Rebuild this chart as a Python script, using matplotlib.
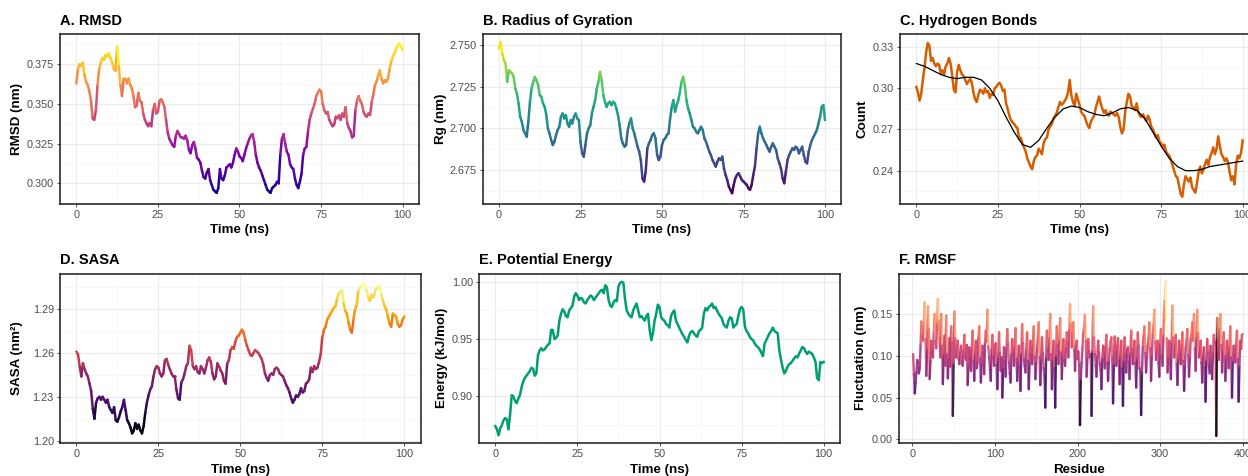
import matplotlib.pyplot as plt
import numpy as np
from matplotlib.collections import LineCollection
from matplotlib.ticker import FormatStrFormatter

plt.rcParams["font.family"] = ["Liberation Sans", "DejaVu Sans"]

W, H = 1248, 476

# ---------------- data (0.5 ns sampling, 0-100 ns) ----------------
rmsd = [
    0.363, 0.372, 0.375, 0.374, 0.376, 0.368, 0.364, 0.362, 0.358, 0.352,
    0.341, 0.340, 0.346, 0.362, 0.372, 0.376, 0.379, 0.378, 0.381, 0.380,
    0.382, 0.379, 0.376, 0.372, 0.371, 0.386, 0.374, 0.362, 0.355, 0.366,
    0.366, 0.363, 0.366, 0.362, 0.360, 0.355, 0.348, 0.349, 0.357, 0.352,
    0.351, 0.344, 0.340, 0.338, 0.336, 0.338, 0.336, 0.346, 0.350, 0.344,
    0.345, 0.352, 0.353, 0.351, 0.348, 0.340, 0.332, 0.328, 0.326, 0.324,
    0.323, 0.330, 0.333, 0.331, 0.329, 0.329, 0.328, 0.330, 0.327, 0.321,
    0.319, 0.324, 0.326, 0.322, 0.316, 0.315, 0.313, 0.308, 0.304, 0.303,
    0.307, 0.309, 0.302, 0.299, 0.296, 0.295, 0.294, 0.297, 0.309, 0.303,
    0.302, 0.305, 0.310, 0.311, 0.312, 0.310, 0.313, 0.318, 0.322, 0.320,
    0.317, 0.316, 0.314, 0.318, 0.322, 0.325, 0.328, 0.330, 0.331, 0.326,
    0.318, 0.313, 0.310, 0.308, 0.305, 0.302, 0.299, 0.296, 0.295, 0.294,
    0.297, 0.298, 0.299, 0.301, 0.300, 0.318, 0.328, 0.331, 0.325, 0.320,
    0.318, 0.312, 0.310, 0.309, 0.303, 0.299, 0.297, 0.301, 0.306, 0.318,
    0.322, 0.323, 0.333, 0.340, 0.344, 0.347, 0.350, 0.355, 0.357, 0.359,
    0.358, 0.350, 0.346, 0.344, 0.345, 0.340, 0.338, 0.336, 0.337, 0.342,
    0.341, 0.343, 0.340, 0.344, 0.342, 0.348, 0.338, 0.335, 0.333, 0.329,
    0.330, 0.346, 0.352, 0.355, 0.352, 0.350, 0.345, 0.343, 0.342, 0.344,
    0.343, 0.351, 0.356, 0.362, 0.364, 0.368, 0.371, 0.366, 0.363, 0.365,
    0.364, 0.366, 0.372, 0.377, 0.380, 0.382, 0.385, 0.387, 0.388, 0.386,
    0.384,
]

rg = [
    2.748, 2.752, 2.745, 2.741, 2.739, 2.728, 2.735, 2.734, 2.733, 2.731,
    2.724, 2.721, 2.715, 2.707, 2.704, 2.699, 2.697, 2.695, 2.704, 2.716,
    2.724, 2.728, 2.731, 2.729, 2.726, 2.720, 2.719, 2.715, 2.713, 2.708,
    2.700, 2.697, 2.693, 2.690, 2.692, 2.696, 2.699, 2.701, 2.707, 2.709,
    2.706, 2.708, 2.703, 2.701, 2.705, 2.703, 2.707, 2.709, 2.706, 2.705,
    2.692, 2.685, 2.683, 2.690, 2.697, 2.700, 2.702, 2.709, 2.713, 2.717,
    2.724, 2.728, 2.734, 2.729, 2.720, 2.716, 2.713, 2.715, 2.716, 2.714,
    2.716, 2.715, 2.712, 2.708, 2.702, 2.694, 2.691, 2.689, 2.690, 2.699,
    2.703, 2.706, 2.700, 2.697, 2.693, 2.689, 2.686, 2.681, 2.670, 2.668,
    2.674, 2.688, 2.691, 2.693, 2.696, 2.697, 2.694, 2.684, 2.681, 2.683,
    2.690, 2.693, 2.694, 2.696, 2.697, 2.706, 2.713, 2.717, 2.710, 2.714,
    2.717, 2.722, 2.728, 2.731, 2.726, 2.717, 2.712, 2.709, 2.705, 2.701,
    2.700, 2.698, 2.697, 2.699, 2.701, 2.699, 2.694, 2.692, 2.689, 2.686,
    2.684, 2.681, 2.679, 2.677, 2.680, 2.682, 2.681, 2.683, 2.676, 2.672,
    2.669, 2.665, 2.663, 2.661, 2.666, 2.670, 2.672, 2.673, 2.671, 2.669,
    2.668, 2.667, 2.666, 2.664, 2.663, 2.666, 2.672, 2.677, 2.688, 2.697,
    2.701, 2.697, 2.694, 2.692, 2.690, 2.688, 2.686, 2.689, 2.691, 2.689,
    2.687, 2.682, 2.679, 2.676, 2.670, 2.667, 2.674, 2.681, 2.684, 2.686,
    2.688, 2.687, 2.689, 2.688, 2.685, 2.687, 2.689, 2.684, 2.680, 2.679,
    2.686, 2.690, 2.693, 2.695, 2.697, 2.699, 2.703, 2.707, 2.713, 2.714,
    2.705,
]

hbonds = [
    0.301, 0.297, 0.291, 0.296, 0.306, 0.315, 0.326, 0.333, 0.331, 0.320,
    0.322, 0.318, 0.316, 0.318, 0.317, 0.311, 0.313, 0.310, 0.316, 0.318,
    0.322, 0.318, 0.309, 0.299, 0.297, 0.312, 0.317, 0.313, 0.310, 0.309,
    0.306, 0.303, 0.305, 0.307, 0.304, 0.297, 0.292, 0.290, 0.295, 0.299,
    0.298, 0.296, 0.300, 0.297, 0.298, 0.293, 0.296, 0.295, 0.300, 0.301,
    0.303, 0.304, 0.302, 0.298, 0.299, 0.289, 0.285, 0.280, 0.277, 0.275,
    0.274, 0.272, 0.271, 0.263, 0.264, 0.260, 0.257, 0.254, 0.249, 0.246,
    0.243, 0.241, 0.247, 0.250, 0.251, 0.256, 0.254, 0.252, 0.260, 0.263,
    0.264, 0.270, 0.272, 0.274, 0.278, 0.280, 0.282, 0.286, 0.290, 0.288,
    0.289, 0.291, 0.293, 0.297, 0.306, 0.295, 0.290, 0.287, 0.296, 0.292,
    0.288, 0.283, 0.281, 0.280, 0.276, 0.273, 0.271, 0.276, 0.278, 0.280,
    0.286, 0.290, 0.294, 0.289, 0.285, 0.282, 0.284, 0.281, 0.280, 0.283,
    0.282, 0.281, 0.280, 0.282, 0.279, 0.272, 0.267, 0.270, 0.283, 0.290,
    0.296, 0.294, 0.287, 0.286, 0.284, 0.289, 0.283, 0.280, 0.279, 0.281,
    0.278, 0.276, 0.280, 0.277, 0.272, 0.270, 0.267, 0.264, 0.266, 0.261,
    0.260, 0.257, 0.259, 0.254, 0.252, 0.251, 0.248, 0.244, 0.240, 0.236,
    0.235, 0.229, 0.223, 0.221, 0.230, 0.236, 0.234, 0.232, 0.235, 0.228,
    0.226, 0.224, 0.231, 0.239, 0.243, 0.238, 0.241, 0.245, 0.248, 0.244,
    0.250, 0.253, 0.257, 0.252, 0.256, 0.265, 0.258, 0.252, 0.250, 0.247,
    0.249, 0.246, 0.239, 0.233, 0.236, 0.230, 0.245, 0.251, 0.249, 0.253,
    0.262,
]

# loess trend for H-bonds, read every 2.5 ns
hbonds_smooth = [
    0.318, 0.316, 0.313, 0.310, 0.308, 0.307, 0.308, 0.308, 0.306, 0.300,
    0.291, 0.279, 0.268, 0.259, 0.257, 0.262, 0.271, 0.279, 0.285, 0.287,
    0.286, 0.283, 0.281, 0.280, 0.282, 0.285, 0.286, 0.284, 0.278, 0.268,
    0.258, 0.249, 0.243, 0.240, 0.240, 0.241, 0.243, 0.244, 0.245, 0.246,
    0.247,
]

sasa = [
    1.261, 1.259, 1.251, 1.244, 1.253, 1.249, 1.246, 1.244, 1.239, 1.234,
    1.222, 1.215, 1.226, 1.229, 1.230, 1.228, 1.230, 1.228, 1.226, 1.228,
    1.223, 1.221, 1.219, 1.223, 1.214, 1.213, 1.216, 1.220, 1.223, 1.228,
    1.221, 1.214, 1.212, 1.209, 1.205, 1.207, 1.212, 1.208, 1.211, 1.207,
    1.205, 1.210, 1.219, 1.226, 1.231, 1.235, 1.237, 1.244, 1.249, 1.251,
    1.250, 1.246, 1.244, 1.246, 1.255, 1.256, 1.252, 1.249, 1.246, 1.244,
    1.244, 1.235, 1.229, 1.228, 1.240, 1.242, 1.246, 1.251, 1.253, 1.265,
    1.262, 1.251, 1.249, 1.251, 1.247, 1.246, 1.251, 1.249, 1.246, 1.250,
    1.255, 1.257, 1.254, 1.246, 1.242, 1.244, 1.253, 1.251, 1.248, 1.246,
    1.241, 1.239, 1.253, 1.255, 1.262, 1.264, 1.263, 1.268, 1.271, 1.272,
    1.274, 1.276, 1.274, 1.269, 1.265, 1.262, 1.259, 1.258, 1.260, 1.262,
    1.261, 1.260, 1.258, 1.256, 1.252, 1.246, 1.243, 1.241, 1.245, 1.246,
    1.245, 1.249, 1.250, 1.249, 1.246, 1.245, 1.244, 1.241, 1.238, 1.236,
    1.233, 1.229, 1.226, 1.228, 1.231, 1.230, 1.232, 1.236, 1.233, 1.234,
    1.239, 1.240, 1.242, 1.250, 1.247, 1.251, 1.249, 1.250, 1.254, 1.259,
    1.271, 1.276, 1.278, 1.283, 1.285, 1.287, 1.289, 1.291, 1.292, 1.297,
    1.301, 1.302, 1.303, 1.294, 1.289, 1.287, 1.281, 1.276, 1.274, 1.283,
    1.290, 1.293, 1.303, 1.305, 1.306, 1.308, 1.307, 1.303, 1.298, 1.296,
    1.300, 1.298, 1.301, 1.305, 1.304, 1.306, 1.300, 1.296, 1.292, 1.290,
    1.285, 1.280, 1.278, 1.287, 1.286, 1.285, 1.280, 1.278, 1.279, 1.283,
    1.285,
]

energy = [
    0.874, 0.871, 0.866, 0.872, 0.875, 0.879, 0.881, 0.880, 0.871, 0.884,
    0.901, 0.900, 0.896, 0.894, 0.898, 0.901, 0.908, 0.913, 0.916, 0.918,
    0.920, 0.922, 0.925, 0.924, 0.918, 0.920, 0.936, 0.940, 0.942, 0.940,
    0.941, 0.943, 0.945, 0.946, 0.958, 0.958, 0.950, 0.951, 0.953, 0.966,
    0.972, 0.976, 0.974, 0.970, 0.969, 0.975, 0.977, 0.979, 0.987, 0.990,
    0.988, 0.984, 0.986, 0.985, 0.982, 0.981, 0.984, 0.986, 0.988, 0.987,
    0.984, 0.986, 0.988, 0.990, 0.992, 0.993, 0.990, 0.997, 0.995, 0.984,
    0.979, 0.978, 0.982, 0.984, 0.983, 0.996, 0.999, 1.000, 0.999, 0.985,
    0.975, 0.972, 0.970, 0.969, 0.975, 0.978, 0.981, 0.975, 0.969, 0.970,
    0.968, 0.966, 0.970, 0.972, 0.958, 0.949, 0.955, 0.966, 0.972, 0.980,
    0.978, 0.969, 0.967, 0.966, 0.963, 0.962, 0.960, 0.970, 0.973, 0.975,
    0.966, 0.963, 0.960, 0.957, 0.954, 0.952, 0.949, 0.947, 0.953, 0.956,
    0.957, 0.955, 0.953, 0.952, 0.957, 0.958, 0.960, 0.972, 0.977, 0.975,
    0.978, 0.979, 0.981, 0.977, 0.978, 0.975, 0.972, 0.970, 0.968, 0.963,
    0.961, 0.960, 0.966, 0.969, 0.968, 0.960, 0.962, 0.963, 0.970, 0.976,
    0.978, 0.976, 0.961, 0.957, 0.955, 0.952, 0.950, 0.949, 0.946, 0.944,
    0.943, 0.941, 0.938, 0.935, 0.946, 0.949, 0.952, 0.955, 0.957, 0.960,
    0.957, 0.956, 0.955, 0.940, 0.932, 0.925, 0.920, 0.922, 0.926, 0.928,
    0.929, 0.931, 0.933, 0.935, 0.934, 0.937, 0.940, 0.943, 0.942, 0.939,
    0.937, 0.939, 0.938, 0.937, 0.934, 0.930, 0.916, 0.914, 0.930, 0.929,
    0.930,
]

# RMSF per residue, residues 1..400 (20 per row)
rmsf_residue = list(range(1, 401))
rmsf = [
    0.102, 0.078, 0.055, 0.068, 0.080, 0.095, 0.092, 0.079, 0.085, 0.112, 0.141, 0.126, 0.118, 0.138, 0.164, 0.120, 0.076, 0.108, 0.159, 0.132,
    0.072, 0.094, 0.118, 0.105, 0.098, 0.127, 0.150, 0.118, 0.109, 0.139, 0.168, 0.142, 0.121, 0.098, 0.150, 0.112, 0.066, 0.101, 0.124, 0.088,
    0.148, 0.102, 0.073, 0.095, 0.121, 0.087, 0.135, 0.116, 0.028, 0.090, 0.153, 0.121, 0.098, 0.109, 0.118, 0.097, 0.090, 0.104, 0.112, 0.093,
    0.088, 0.106, 0.125, 0.099, 0.095, 0.113, 0.065, 0.087, 0.110, 0.096, 0.082, 0.108, 0.130, 0.094, 0.070, 0.101, 0.118, 0.085, 0.092, 0.121,
    0.135, 0.097, 0.068, 0.090, 0.112, 0.104, 0.078, 0.115, 0.130, 0.117, 0.155, 0.111, 0.098, 0.083, 0.070, 0.107, 0.125, 0.099, 0.088, 0.112,
    0.115, 0.089, 0.060, 0.097, 0.128, 0.103, 0.082, 0.098, 0.050, 0.084, 0.110, 0.093, 0.075, 0.109, 0.132, 0.114, 0.092, 0.079, 0.068, 0.101,
    0.120, 0.104, 0.088, 0.110, 0.133, 0.096, 0.070, 0.093, 0.112, 0.087, 0.058, 0.102, 0.138, 0.115, 0.095, 0.088, 0.080, 0.107, 0.128, 0.094,
    0.060, 0.092, 0.118, 0.101, 0.090, 0.112, 0.135, 0.099, 0.072, 0.091, 0.108, 0.121, 0.140, 0.098, 0.065, 0.095, 0.122, 0.103, 0.085, 0.076,
    0.038, 0.097, 0.130, 0.108, 0.095, 0.121, 0.150, 0.102, 0.060, 0.094, 0.118, 0.085, 0.038, 0.099, 0.135, 0.113, 0.090, 0.118, 0.145, 0.104,
    0.072, 0.101, 0.120, 0.095, 0.088, 0.109, 0.128, 0.116, 0.098, 0.131, 0.162, 0.138, 0.110, 0.126, 0.140, 0.107, 0.082, 0.112, 0.118, 0.096,
    0.105, 0.089, 0.017, 0.071, 0.092, 0.110, 0.128, 0.134, 0.149, 0.118, 0.075, 0.097, 0.120, 0.106, 0.098, 0.102, 0.028, 0.105, 0.159, 0.122,
    0.102, 0.088, 0.075, 0.099, 0.118, 0.104, 0.090, 0.083, 0.060, 0.096, 0.112, 0.097, 0.085, 0.110, 0.125, 0.091, 0.070, 0.093, 0.108, 0.117,
    0.122, 0.097, 0.043, 0.089, 0.123, 0.112, 0.088, 0.106, 0.121, 0.094, 0.066, 0.099, 0.118, 0.085, 0.040, 0.093, 0.122, 0.101, 0.080, 0.107,
    0.110, 0.093, 0.072, 0.102, 0.130, 0.108, 0.090, 0.104, 0.118, 0.091, 0.062, 0.096, 0.128, 0.112, 0.085, 0.081, 0.029, 0.079, 0.110, 0.123,
    0.135, 0.103, 0.080, 0.098, 0.112, 0.121, 0.140, 0.109, 0.070, 0.099, 0.125, 0.136, 0.155, 0.117, 0.095, 0.106, 0.118, 0.092, 0.075, 0.114,
    0.132, 0.101, 0.088, 0.124, 0.165, 0.143, 0.189, 0.121, 0.080, 0.097, 0.118, 0.095, 0.072, 0.116, 0.160, 0.122, 0.098, 0.108, 0.125, 0.090,
    0.065, 0.096, 0.118, 0.102, 0.090, 0.111, 0.128, 0.094, 0.058, 0.087, 0.110, 0.119, 0.132, 0.101, 0.075, 0.097, 0.120, 0.126, 0.140, 0.118,
    0.150, 0.109, 0.082, 0.121, 0.155, 0.127, 0.098, 0.103, 0.118, 0.092, 0.068, 0.099, 0.110, 0.086, 0.045, 0.094, 0.120, 0.104, 0.088, 0.079,
    0.112, 0.091, 0.072, 0.103, 0.125, 0.117, 0.115, 0.004, 0.145, 0.121, 0.095, 0.132, 0.150, 0.113, 0.080, 0.106, 0.128, 0.099, 0.070, 0.096,
    0.118, 0.102, 0.085, 0.110, 0.135, 0.098, 0.050, 0.093, 0.112, 0.101, 0.092, 0.114, 0.130, 0.096, 0.045, 0.087, 0.118, 0.108, 0.125, 0.126,
]

time_ticks = [0, 25, 50, 75, 100]
time_minor = [12.5, 37.5, 62.5, 87.5]

TICK_COLOR = "#4D4D4D"
GRID_MAJOR = "#EBEBEB"
GRID_MINOR = "#F4F4F4"


def panel(fig, box, xlim, ylim, xticks, xminor, yticks, yminor, fmt):
    left, top, right, bottom = box
    ax = fig.add_axes([left / W, 1 - bottom / H, (right - left) / W, (bottom - top) / H])
    ax.set_xlim(*xlim)
    ax.set_ylim(*ylim)
    ax.set_xticks(xticks)
    ax.set_xticks(xminor, minor=True)
    ax.set_yticks(yticks)
    ax.set_yticks(yminor, minor=True)
    ax.yaxis.set_major_formatter(FormatStrFormatter(fmt))
    ax.grid(which="major", color=GRID_MAJOR, lw=0.8, zorder=0)
    ax.grid(which="minor", color=GRID_MINOR, lw=0.5, zorder=0)
    ax.set_axisbelow(True)
    ax.tick_params(which="major", length=2.2, width=0.6, color="#333333",
                   labelsize=7.8, labelcolor=TICK_COLOR, pad=2.2)
    ax.tick_params(which="minor", length=0)
    for s in ax.spines.values():
        s.set_linewidth(1.1)
        s.set_color("#1a1a1a")
    return ax


def gradient_line(ax, x, y, cmap, lw=1.8, alpha=1.0):
    x = np.asarray(x, float)
    y = np.asarray(y, float)
    pts = np.column_stack([x, y]).reshape(-1, 1, 2)
    segs = np.concatenate([pts[:-1], pts[1:]], axis=1)
    lc = LineCollection(segs, cmap=cmap, norm=plt.Normalize(y.min(), y.max()),
                        linewidths=lw, capstyle="round", joinstyle="round", alpha=alpha)
    lc.set_array(y[:-1])
    ax.add_collection(lc)
    return lc


def labels(fig, box, title, xlabel, ylabel, ylabel_x, title_y, xlabel_y):
    left, top, right, bottom = box
    fig.text(left / W, 1 - title_y / H, title, fontsize=10.5, fontweight="bold",
             ha="left", va="baseline")
    fig.text((left + right) / 2 / W, 1 - xlabel_y / H, xlabel, fontsize=9.6,
             fontweight="bold", ha="center", va="center")
    fig.text(ylabel_x / W, 1 - (top + bottom) / 2 / H, ylabel, fontsize=9.6,
             fontweight="bold", ha="center", va="center", rotation=90)


fig = plt.figure(figsize=(W / 100, H / 100), dpi=100)

# A. RMSD
box = (60, 34, 419, 203.5)
ax = panel(fig, box, (-5, 105), (0.2873, 0.3941), time_ticks, time_minor,
           [0.300, 0.325, 0.350, 0.375], [0.2875, 0.3125, 0.3375, 0.3625, 0.3875], "%.3f")
gradient_line(ax, np.linspace(0, 100, len(rmsd)), rmsd, "plasma")
labels(fig, box, "A. RMSD", "Time (ns)", "RMSD (nm)", 16.7, 25, 230)

# B. Radius of gyration
box = (482.7, 34, 841.3, 203.5)
ax = panel(fig, box, (-5, 105), (2.6548, 2.7568), time_ticks, time_minor,
           [2.675, 2.700, 2.725, 2.750], [2.6625, 2.6875, 2.7125, 2.7375], "%.3f")
gradient_line(ax, np.linspace(0, 100, len(rg)), rg, "viridis")
labels(fig, box, "B. Radius of Gyration", "Time (ns)", "Rg (nm)", 440.7, 25, 230)

# C. Hydrogen bonds
box = (900, 34, 1259, 203.5)
ax = panel(fig, box, (-5, 105), (0.2161, 0.3395), time_ticks, time_minor,
           [0.24, 0.27, 0.30, 0.33], [0.225, 0.255, 0.285, 0.315], "%.2f")
ax.plot(np.linspace(0, 100, len(hbonds)), hbonds, color="#D55E00", lw=1.8,
        solid_joinstyle="round")
ax.plot(np.linspace(0, 100, len(hbonds_smooth)), hbonds_smooth, color="black", lw=0.9)
labels(fig, box, "C. Hydrogen Bonds", "Time (ns)", "Count", 862, 25, 230)

# D. SASA
box = (60, 273.5, 420.7, 442.7)
ax = panel(fig, box, (-5, 105), (1.1986, 1.3145), time_ticks, time_minor,
           [1.20, 1.23, 1.26, 1.29], [1.215, 1.245, 1.275, 1.305], "%.2f")
gradient_line(ax, np.linspace(0, 100, len(sasa)), sasa, "inferno")
labels(fig, box, "D. SASA", "Time (ns)", "SASA (nm²)", 16.7, 264, 470)

# E. Potential energy
box = (478.9, 273.5, 840.1, 442.7)
ax = panel(fig, box, (-5, 105), (0.8595, 1.0072), time_ticks, time_minor,
           [0.90, 0.95, 1.00], [0.875, 0.925, 0.975], "%.2f")
ax.plot(np.linspace(0, 100, len(energy)), energy, color="#009E73", lw=1.8,
        solid_joinstyle="round")
labels(fig, box, "E. Potential Energy", "Time (ns)", "Energy (kJ/mol)", 442, 264, 470)

# F. RMSF
box = (899, 273.5, 1259, 442.7)
ax = panel(fig, box, (-16.1, 419.7), (-0.0041, 0.1985), [0, 100, 200, 300, 400],
           [50, 150, 250, 350], [0.00, 0.05, 0.10, 0.15], [0.025, 0.075, 0.125, 0.175], "%.2f")
gradient_line(ax, rmsf_residue, rmsf, "magma", lw=1.7, alpha=0.85)
labels(fig, box, "F. RMSF", "Residue", "Fluctuation (nm)", 860.5, 264, 470)

fig.savefig("out.png", dpi=100, facecolor="white")
